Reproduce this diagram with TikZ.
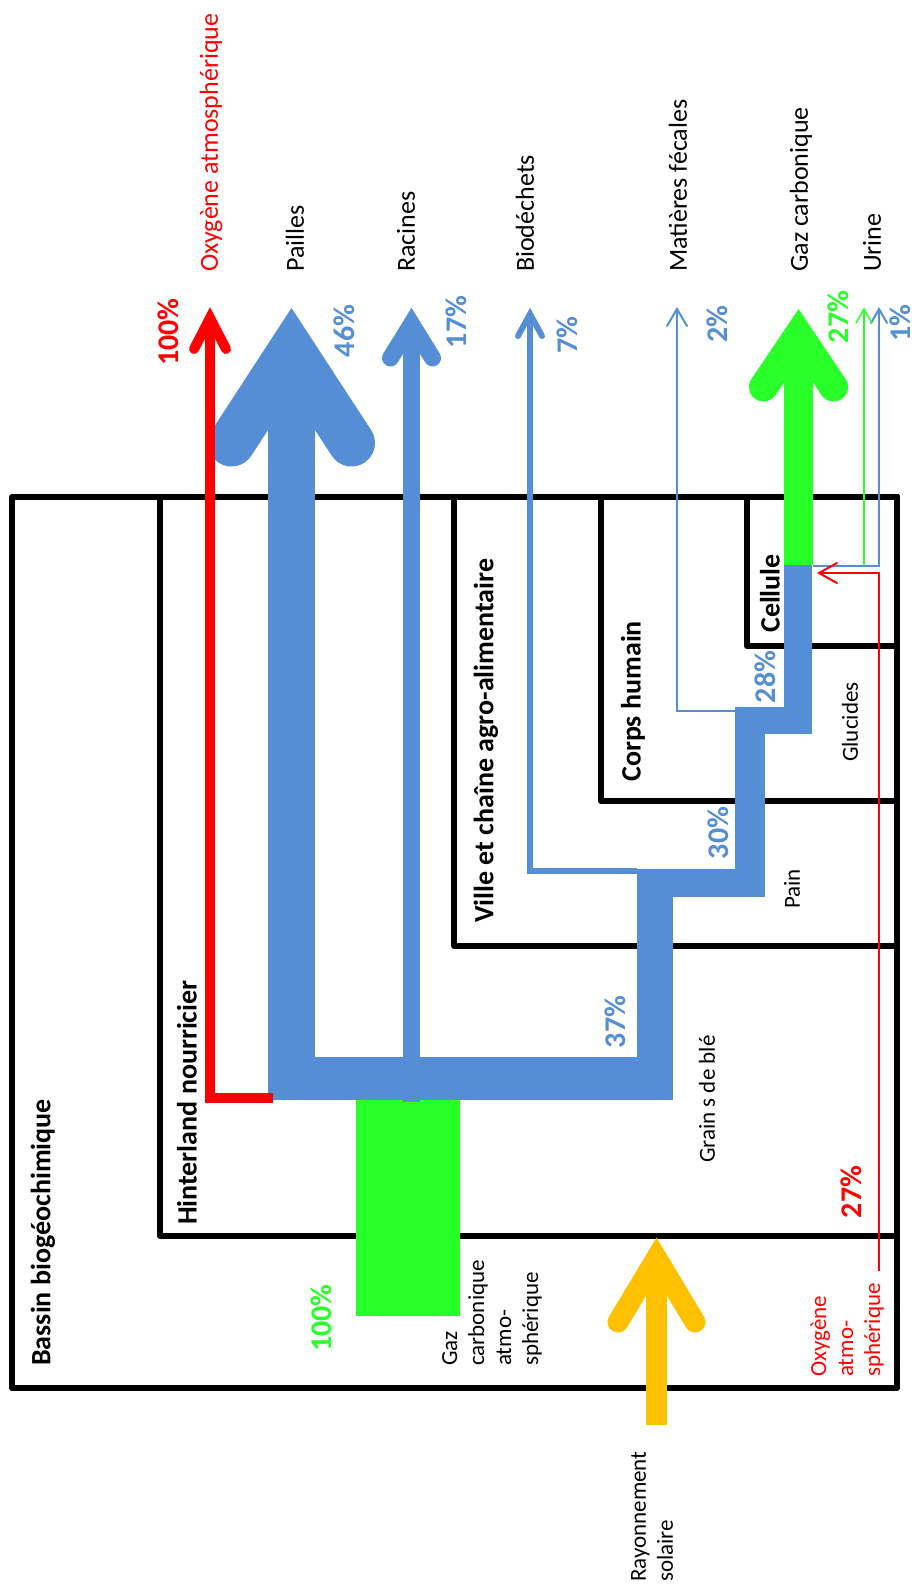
\documentclass[tikz,border=0pt]{standalone}
\usepackage{fontspec}
\setmainfont{Carlito}
\usepackage{xcolor}
\usepackage{tikz}
\definecolor{flowblue}{RGB}{85,142,213}
\definecolor{flowgreen}{RGB}{41,255,41}
\definecolor{flowred}{RGB}{255,0,0}
\definecolor{sunyellow}{RGB}{255,192,0}

\begin{document}
\begin{tikzpicture}[
        x=1pt, y=-1pt,
        box/.style={
                rectangle, draw=black, line width=6pt, line join=round,
                anchor=north east, inner sep=0pt, outer sep=0pt
            },
        boxlabel/.style={
                rotate=90, anchor=west, inner sep=0pt,
                font=\bfseries\fontsize{28}{32}\selectfont
            },
        outlabel/.style={
                rotate=90, anchor=west, inner sep=0pt,
                font=\fontsize{26}{30}\selectfont
            },
        smalllabel/.style={
                rotate=90, anchor=west, inner sep=0pt, align=left,
                font=\fontsize{23}{27}\selectfont
            },
        pct/.style={
                rotate=90, inner sep=0pt,
                font=\bfseries\fontsize{30}{34}\selectfont
            },
        head/.style={line cap=round, line join=miter},
        slim/.style={line width=2pt, line join=miter}
    ]
    \useasboundingbox (0,0) rectangle (919,1584);

    % ===== Nested boxes (common top right corner) =====
    \node[box, minimum width=885pt, minimum height=891pt] (bassin) at (897,497) {};
    \node[box, minimum width=737pt, minimum height=739pt] (hinterland) at (897,497) {};
    \node[box, minimum width=443pt, minimum height=449pt] (ville) at (897,497) {};
    \node[box, minimum width=296pt, minimum height=304pt] (corps) at (897,497) {};
    \node[box, minimum width=150pt, minimum height=149pt] (cellule) at (897,497) {};

    % ===== Atmospheric CO2 entering =====
    \fill[flowgreen] (356,1097) rectangle (460,1316);

    % ===== Biomass flow (blue bands) =====
    \fill[flowblue] (268,351) rectangle (315,1100);
    \fill[flowblue] (268,1057) rectangle (673,1100);
    \fill[flowblue] (403,324) rectangle (420,1102);
    \fill[flowblue] (637,869) rectangle (673,1100);
    \fill[flowblue] (637,869) rectangle (765,897);
    \fill[flowblue] (735,707) rectangle (765,897);
    \fill[flowblue] (735,707) rectangle (812,734);
    \fill[flowblue] (784,565) rectangle (812,734);
    \fill[flowgreen] (784,335) rectangle (813,565);

    % ===== Arrow heads of the wide flows =====
    \draw[flowblue, head, line width=47pt] (231.5,443) -- (291.5,351) -- (351.5,443);
    \draw[flowblue, head, line width=17pt] (390.5,358) -- (411.5,324) -- (432.5,358);
    \draw[flowgreen, head, line width=29pt] (763.5,387) -- (798.5,335) -- (833.5,387);

    % ===== Oxygen released =====
    \draw[flowred, line width=10pt, line join=miter] (273,1098) -- (210,1098) -- (210,318);
    \draw[flowred, head, line width=10pt] (194,349) -- (210,318) -- (226,349);

    % ===== Biodechets =====
    \draw[flowblue, line width=6pt, line join=miter] (637,871) -- (530,871) -- (530,314);
    \draw[flowblue, head, line width=6pt] (518,336) -- (530,314) -- (542,336);

    % ===== Matieres fecales =====
    \draw[flowblue, slim] (735,711) -- (677,711) -- (677,309);
    \draw[flowblue, slim, head] (667,326) -- (677,309) -- (687,326);

    % ===== Urine =====
    \draw[flowblue, slim] (813,566) -- (879,566) -- (879,309);
    \draw[flowblue, slim, head] (871,323) -- (879,309) -- (887,323);
    \draw[flowgreen, line width=1.5pt] (864,566) -- (864,309);
    \draw[flowgreen, line width=1.5pt, head] (856,323) -- (864,309) -- (872,323);

    % ===== Oxygen breathed in =====
    \draw[flowred, slim] (879,1271) -- (879,573) -- (819,573);
    \draw[flowred, slim, head] (837,563) -- (819,573) -- (837,583);

    % ===== Solar radiation =====
    \draw[sunyellow, line width=21pt] (656.5,1425) -- (656.5,1258);
    \draw[sunyellow, head, line width=21pt] (618,1322) -- (656.5,1258) -- (695,1322);

    % ===== Box labels =====
    \node[boxlabel] (bassinlbl) at (43,1366) {Bassin biogéochimique};
    \node[boxlabel] (hinterlandlbl) at (187,1225) {Hinterland nourricier};
    \node[boxlabel] (villelbl) at (486,923) {Ville et chaîne agro-alimentaire};
    \node[boxlabel] (corpslbl) at (633,782) {Corps humain};
    \node[boxlabel] (cellulelbl) at (770,633) {Cellule};

    % ===== Outputs (top) =====
    \node[outlabel, text=flowred] (oxyout) at (211,272) {Oxygène atmosphérique};
    \node[outlabel] (pailles) at (295,272) {Pailles};
    \node[outlabel] (racines) at (406,272) {Racines};
    \node[outlabel] (biodechets) at (525,272) {Biodéchets};
    \node[outlabel] (feces) at (678,272) {Matières fécales};
    \node[outlabel] (co2out) at (801,272) {Gaz carbonique};
    \node[outlabel] (urine) at (872,272) {Urine};

    % ===== Inputs and intermediate products =====
    \node[smalllabel] (co2in) at (492,1366) {Gaz\\carbonique\\atmo-\\sphérique};
    \node[smalllabel] (soleil) at (652,1582) {Rayonnement\\solaire};
    \node[smalllabel, text=flowred] (oxyin) at (847,1377) {Oxygène\\atmo-\\sphérique};
    \node[smalllabel] (grains) at (707,1163) {Grain s de blé};
    \node[smalllabel] (pain) at (792,909) {Pain};
    \node[smalllabel] (glucides) at (850,762) {Glucides};

    % ===== Percentages =====
    \node[pct, text=flowred] (poxyout) at (168,332) {100\%};
    \node[pct, text=flowblue] (ppailles) at (344,331) {46\%};
    \node[pct, text=flowblue] (pracines) at (456,322) {17\%};
    \node[pct, text=flowblue] (pbio) at (567,335) {7\%};
    \node[pct, text=flowblue] (pfeces) at (717,324) {2\%};
    \node[pct, text=flowgreen] (pco2out) at (838,317) {27\%};
    \node[pct, text=flowblue] (purine) at (900,323) {1\%};
    \node[pct, text=flowblue] (pgrains) at (615,1022) {37\%};
    \node[pct, text=flowblue] (ppain) at (718,833) {30\%};
    \node[pct, text=flowblue] (pglucides) at (765,677) {28\%};
    \node[pct, text=flowgreen] (pco2in) at (321,1318) {100\%};
    \node[pct, text=flowred] (poxyin) at (851,1192) {27\%};
\end{tikzpicture}
\end{document}
